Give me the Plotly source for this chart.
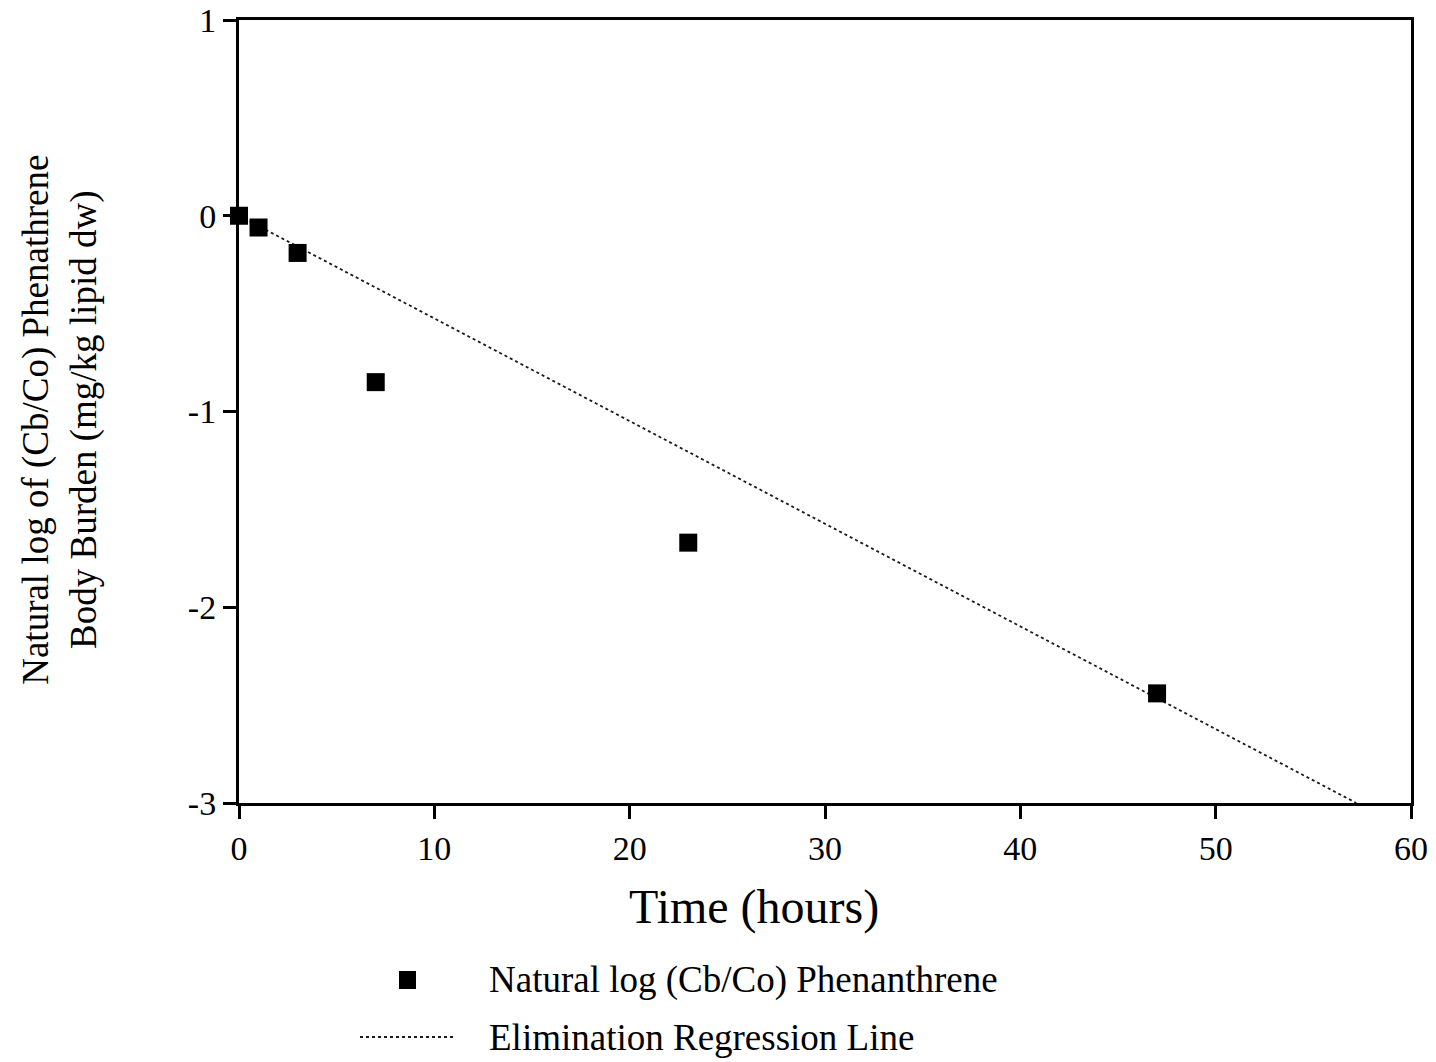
import plotly.graph_objects as go

# Data
time_hours = [0, 1, 3, 7, 23, 47]
ln_cb_co = [0.0, -0.06, -0.19, -0.85, -1.67, -2.44]

reg_x = [0, 57.2]
reg_y = [0.0, -3.0]

x_ticks = [0, 10, 20, 30, 40, 50, 60]
y_ticks = [-3, -2, -1, 0, 1]
y_tick_text = ["-3", "-2", "-1", "0", "1"]

FONT = "Liberation Serif"

fig = go.Figure()
fig.add_trace(go.Scatter(
    x=reg_x, y=reg_y, mode="lines",
    line=dict(color="#1a1a1a", width=1.8, dash="dot"),
    showlegend=False, hoverinfo="skip"))
fig.add_trace(go.Scatter(
    x=time_hours, y=ln_cb_co, mode="markers",
    marker=dict(symbol="square", size=18, color="black"),
    cliponaxis=False, showlegend=False))

axis_common = dict(
    showline=True, linecolor="black", linewidth=3, mirror=True,
    ticks="outside", ticklen=13, tickwidth=3, tickcolor="black",
    showgrid=False, zeroline=False, automargin=False,
    tickfont=dict(family=FONT, size=34, color="black"),
)
fig.update_xaxes(range=[0, 60], tickvals=x_ticks, **axis_common)
fig.update_yaxes(range=[-3, 1], tickvals=y_ticks, ticktext=y_tick_text,
                 **axis_common)

annotations = [
    dict(text="Time (hours)", x=0.439, y=-0.133, xref="paper", yref="paper",
         showarrow=False, font=dict(family=FONT, size=48, color="black"),
         xanchor="center", yanchor="middle"),
    dict(text="Natural log of (Cb/Co) Phenathrene<br>Body Burden (mg/kg lipid dw)",
         x=-0.153, y=0.489, xref="paper", yref="paper", textangle=-90,
         showarrow=False, font=dict(family=FONT, size=37, color="black"),
         xanchor="center", yanchor="middle"),
    dict(text="Natural log (Cb/Co) Phenanthrene", x=(487 - 239) / 1172, y=-0.226,
         xref="paper", yref="paper", showarrow=False,
         font=dict(family=FONT, size=37, color="black"),
         xanchor="left", yanchor="middle"),
    dict(text="Elimination Regression Line", x=(487 - 239) / 1172, y=-0.2989,
         xref="paper", yref="paper", showarrow=False,
         font=dict(family=FONT, size=37, color="black"),
         xanchor="left", yanchor="middle"),
]

shapes = [
    dict(type="rect", xref="paper", yref="paper",
         x0=(399 - 239) / 1172, x1=(416 - 239) / 1172,
         y0=(803 - 989) / 783, y1=(803 - 971) / 783,
         fillcolor="black", line=dict(width=0)),
    dict(type="line", xref="paper", yref="paper",
         x0=(360 - 239) / 1172, x1=(455 - 239) / 1172,
         y0=(803 - 1037) / 783, y1=(803 - 1037) / 783,
         line=dict(color="#1a1a1a", width=1.8, dash="dot")),
]

fig.update_layout(
    width=1436, height=1062,
    margin=dict(l=239, r=25, t=20, b=259),
    plot_bgcolor="white", paper_bgcolor="white",
    annotations=annotations, shapes=shapes,
    showlegend=False,
)

fig.write_html(
    "out.html",
    config={"displayModeBar": False},
    post_script="document.body.style.margin='0';document.body.style.overflow='hidden';",
)
